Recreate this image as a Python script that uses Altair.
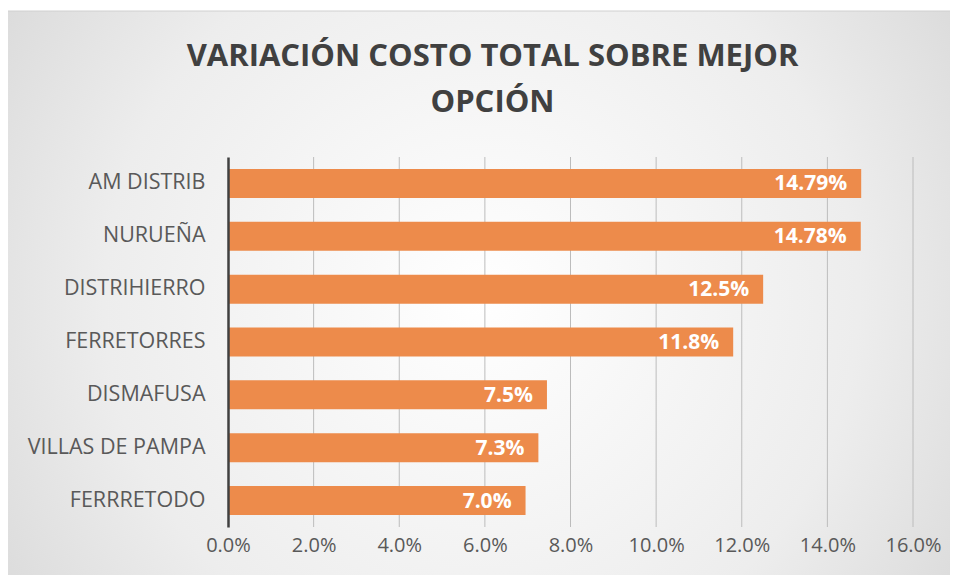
import altair as alt
import pandas as pd

categories = ["AM DISTRIB", "NURUEÑA", "DISTRIHIERRO", "FERRETORRES", "DISMAFUSA", "VILLAS DE PAMPA", "FERRRETODO"]
values = [0.1479, 0.1478, 0.125, 0.118, 0.0745, 0.0725, 0.0695]
labels = ["14.79%", "14.78%", "12.5%", "11.8%", "7.5%", "7.3%", "7.0%"]
grid_ticks = [0.02, 0.04, 0.06, 0.08, 0.10, 0.12, 0.14, 0.16]
axis_ticks = [0.0, 0.02, 0.04, 0.06, 0.08, 0.10, 0.12, 0.14, 0.16]

W, H = 685, 370
FONT = "Open Sans"

df = pd.DataFrame({"cat": categories, "val": values, "lab": labels})
gdf = pd.DataFrame({"g": grid_ticks})

xscale = alt.Scale(domain=[0, 0.16], nice=False, zero=True)
yscale = alt.Scale(domain=categories, paddingInner=0, paddingOuter=0)
xaxis = alt.Axis(values=axis_ticks, format=".1%", grid=False, domain=False, ticks=False,
                 labelFont=FONT, labelFontSize=20, labelColor="#595959", labelFlush=False,
                 labelPadding=8, title=None, zindex=1)

bg = alt.Chart(pd.DataFrame({"a": [0]})).mark_rect(
    fill=alt.RadialGradient(
        gradient="radial",
        x1=0.5, y1=0.5, r1=0, x2=0.5, y2=0.5, r2=0.72,
        stops=[alt.GradientStop(offset=0, color="#ffffff"),
               alt.GradientStop(offset=0.55, color="#ededed"),
               alt.GradientStop(offset=1, color="#cfcfcf")],
    ),
    stroke="#d0d0d0", strokeWidth=1,
).encode(
    x=alt.value(-223), x2=alt.value(730),
    y=alt.value(-146), y2=alt.value(430),
)

grid = alt.Chart(gdf).mark_rule(color="#bcbcbc", strokeWidth=1).encode(
    x=alt.X("g:Q", scale=xscale, axis=xaxis),
    y=alt.value(0), y2=alt.value(H),
)

bars = alt.Chart(df).mark_bar(size=29, color="#ED8B4B").encode(
    x=alt.X("val:Q", scale=xscale, axis=xaxis),
    y=alt.Y("cat:N", scale=yscale, sort=categories,
            axis=alt.Axis(grid=False, ticks=False, domain=True, domainColor="#404040",
                          domainWidth=2.5, labelFont=FONT, labelFontSize=21.5, labelLimit=400,
                          labelColor="#595959", labelPadding=23, title=None, zindex=1)),
)

text = alt.Chart(df).mark_text(
    align="right", baseline="middle", dx=-14, dy=1, color="white",
    font=FONT, fontSize=21, fontWeight="bold",
).encode(
    x=alt.X("val:Q", scale=xscale, axis=xaxis),
    y=alt.Y("cat:N", scale=yscale, sort=categories),
    text="lab:N",
)

chart = alt.layer(bg, grid, bars, text).properties(
    width=W, height=H,
    autosize=alt.AutoSizeParams(type="none"),
    padding={"left": 220, "top": 149, "right": 37, "bottom": 48},
    title=alt.Title(
        ["VARIACIÓN COSTO TOTAL SOBRE MEJOR", "OPCIÓN"],
        anchor="middle", frame="group", dx=-78, offset=-108,
        font=FONT, fontSize=31, fontWeight="bold", color="#404040", lineHeight=46,
    ),
).configure_view(stroke=None).configure(background="white")

chart.save("out.html", embed_options={"renderer": "svg", "actions": False})
